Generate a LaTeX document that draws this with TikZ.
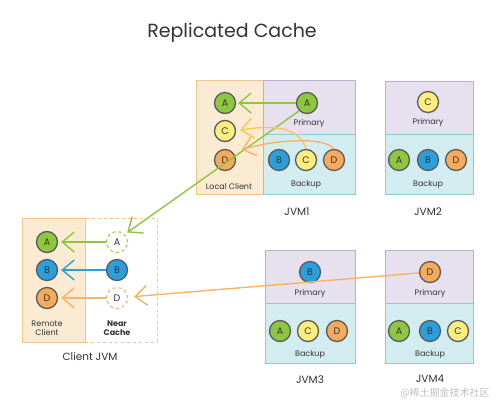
\documentclass[tikz,border=0pt]{standalone}
\usepackage{fontspec}
\setmainfont{Poppins}
\newfontfamily\cjk{Noto Sans CJK SC}
\usetikzlibrary{arrows.meta, positioning}

\definecolor{txtgray}{HTML}{333333}
\definecolor{ringgray}{HTML}{5A5A5A}
\definecolor{peachfill}{HTML}{FCEBD3}
\definecolor{peachline}{HTML}{F3C48C}
\definecolor{lavfill}{HTML}{E6E0EF}
\definecolor{lavline}{HTML}{B9ADD0}
\definecolor{cyanfill}{HTML}{D3ECEF}
\definecolor{cyanline}{HTML}{8FCBD4}
\definecolor{keygreen}{HTML}{8DC63F}
\definecolor{keyblue}{HTML}{2A9FDC}
\definecolor{keyyellow}{HTML}{FBEE7E}
\definecolor{keyorange}{HTML}{F5AA5C}
\definecolor{arryellow}{HTML}{F7CB52}
\definecolor{arrorange}{HTML}{F7B469}

\begin{document}
\begin{tikzpicture}[x=1pt, y=-1pt, text=txtgray, font=\fontsize{8}{9}\selectfont]
\tikzstyle{clientbox} = [rectangle, draw=peachline, fill=peachfill, line width=0.8pt]
\tikzstyle{nearbox} = [rectangle, draw=peachline, dashed, line width=0.8pt]
\tikzstyle{primbox} = [rectangle, draw=lavline, fill=lavfill, line width=0.8pt]
\tikzstyle{backbox} = [rectangle, draw=cyanline, fill=cyanfill, line width=0.8pt]
\tikzstyle{key} = [circle, draw=ringgray, line width=1.3pt, minimum size=21pt, inner sep=0pt, font=\fontsize{9.5}{9.5}\selectfont]
\tikzstyle{keyA} = [key, fill=keygreen]
\tikzstyle{keyB} = [key, fill=keyblue]
\tikzstyle{keyC} = [key, fill=keyyellow]
\tikzstyle{keyD} = [key, fill=keyorange]
\tikzstyle{jvmname} = [font=\fontsize{10.5}{11}\selectfont]
\tikzstyle{arrow} = [line width=1.4pt, -{Straight Barb[length=12pt, width=20pt, line width=1.4pt]}]

\useasboundingbox (0,0) rectangle (500,408);

\node[font=\fontsize{19}{21}\selectfont] (title) at (232,33) {Replicated Cache};

% JVM1
\node[clientbox, minimum width=67pt, minimum height=114pt] (lc) at (229.5,137) {};
\node[primbox, minimum width=92pt, minimum height=54pt] (j1p) at (309,107) {};
\node[backbox, minimum width=92pt, minimum height=60pt] (j1b) at (309,164) {};
\node[keyA] (lcA) at (225,103) {A};
\node[keyC] (lcC) at (225,131) {C};
\node[keyD] (lcD) at (225,160) {D};
\node (lcname) at (229,186) {Local Client};
\node[keyA] (j1pA) at (307,103) {A};
\node (j1pname) at (309,123) {Primary};
\node[keyB] (j1bB) at (279,160) {B};
\node[keyC] (j1bC) at (306,160) {C};
\node[keyD] (j1bD) at (334,160) {D};
\node (j1bname) at (306,185) {Backup};
\node[jvmname] (jvm1) at (297,212) {JVM1};

% JVM2
\node[primbox, minimum width=88pt, minimum height=53pt] (j2p) at (429,107.5) {};
\node[backbox, minimum width=88pt, minimum height=60pt] (j2b) at (429,164) {};
\node[keyC] (j2pC) at (428,102) {C};
\node (j2pname) at (428,122) {Primary};
\node[keyA] (j2bA) at (399,160) {A};
\node[keyB] (j2bB) at (428,160) {B};
\node[keyD] (j2bD) at (456,160) {D};
\node (j2bname) at (428,185) {Backup};
\node[jvmname] (jvm2) at (428,212) {JVM2};

% JVM3
\node[primbox, minimum width=90pt, minimum height=53pt] (j3p) at (310,276.5) {};
\node[backbox, minimum width=90pt, minimum height=60pt] (j3b) at (310,333) {};
\node[keyB] (j3pB) at (310,272) {B};
\node (j3pname) at (310,293) {Primary};
\node[keyA] (j3bA) at (280,331) {A};
\node[keyC] (j3bC) at (308,331) {C};
\node[keyD] (j3bD) at (337,331) {D};
\node (j3bname) at (310,355) {Backup};
\node[jvmname] (jvm3) at (310,380) {JVM3};

% JVM4
\node[primbox, minimum width=88pt, minimum height=53pt] (j4p) at (429,276.5) {};
\node[backbox, minimum width=88pt, minimum height=60pt] (j4b) at (429,333) {};
\node[keyD] (j4pD) at (430,272) {D};
\node (j4pname) at (430,293) {Primary};
\node[keyA] (j4bA) at (399,331) {A};
\node[keyB] (j4bB) at (430,331) {B};
\node[keyC] (j4bC) at (458,331) {C};
\node (j4bname) at (430,355) {Backup};
\node[jvmname] (jvm4) at (430,379) {JVM4};

% Client JVM
\node[clientbox, minimum width=63pt, minimum height=124pt] (rc) at (53.5,280) {};
\node[nearbox, minimum width=72pt, minimum height=124pt] (nc) at (121,280) {};
\node[keyA] (rcA) at (47,242) {A};
\node[keyB] (rcB) at (47,270) {B};
\node[keyD] (rcD) at (47,298) {D};
\node[align=center] (rcname) at (47,328) {Remote\\Client};
\node[key, draw=keygreen, dashed, line width=1pt] (ncA) at (117,242) {A};
\node[keyB] (ncB) at (117,270) {B};
\node[key, draw=keyorange, dashed, line width=1pt] (ncD) at (117,298) {D};
\node[align=center, font=\fontsize{8}{9}\selectfont\bfseries] (ncname) at (117,328) {Near\\Cache};
\node[jvmname] (clientjvm) at (90,357) {Client JVM};

% arrows
\draw[arrow, keygreen, shorten >=2pt] (j1pA) -- (lcA);
\draw[arrow, keygreen, shorten >=3pt] (j1pA.south west) -- (ncA.north east);
\draw[arrow, arryellow, shorten >=4pt] (j1bC.north) .. controls (300,128) and (275,124) .. (lcC.east);
\draw[arrow, arrorange, shorten >=9pt] (j1bD.north) .. controls (326,138) and (282,138) .. (lcD.north east);
\draw[arrow, keygreen, shorten >=3pt] (ncA) -- (rcA);
\draw[arrow, keyblue, shorten >=3pt] (ncB) -- (rcB);
\draw[arrow, arrorange, shorten >=3pt] (ncD) -- (rcD);
\draw[arrow, arrorange, shorten >=6pt] (j4pD) -- (ncD);

\node[text=black!25, font=\cjk\fontsize{10}{10}\selectfont] (mark) at (445,393) {@稀土掘金技术社区};
\end{tikzpicture}
\end{document}
